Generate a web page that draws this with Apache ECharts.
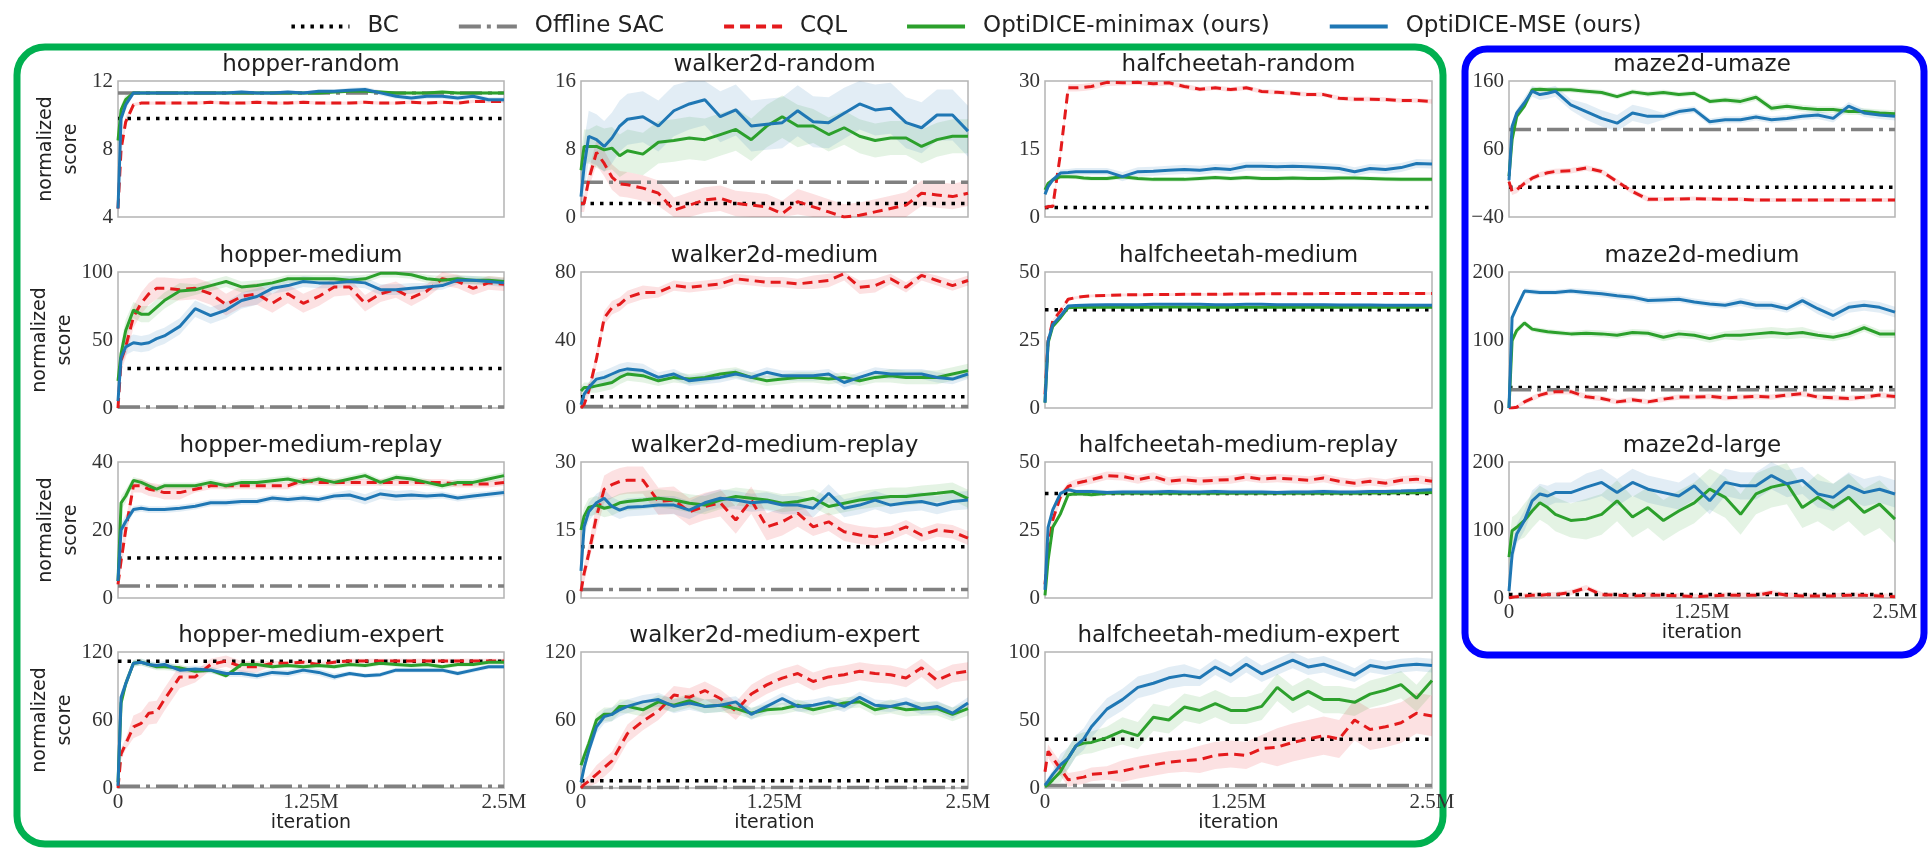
<!DOCTYPE html>
<html><head><meta charset="utf-8">
<script src="https://cdn.jsdelivr.net/npm/echarts@6/dist/echarts.min.js"></script>
<style>html,body{margin:0;padding:0;background:#fff}#c{width:1931px;height:848px}</style>
</head><body><div id="c"></div>
<script>
// ---------------- DATA ----------------
const iterations = [0,0.02,0.05,0.1,0.15,0.2,0.25,0.3,0.4,0.5,0.6,0.7,0.8,0.9,1.0,1.1,1.2,1.3,1.4,1.5,1.6,1.7,1.8,1.9,2.0,2.1,2.2,2.3,2.4,2.5];
const xTicks = [0, 1.25, 2.5];
const legendNames = ['BC','Offline SAC','CQL','OptiDICE-minimax (ours)','OptiDICE-MSE (ours)'];
// band half-widths are given per segment: [0-0.1M, 0.1-0.5M, 0.5-1M, 1-1.5M, 1.5-2M, 2-2.5M]

// hopper-random
const hopperRandom_yTicks = [4, 8, 12];
const hopperRandom_BC = 9.8, hopperRandom_SAC = 11.3;
const hopperRandom_CQL = [4.5,8.0,9.6,10.6,10.7,10.7,10.7,10.7,10.7,10.7,10.75,10.7,10.7,10.75,10.7,10.7,10.75,10.7,10.7,10.7,10.75,10.7,10.7,10.75,10.7,10.75,10.7,10.8,10.8,10.8];
const hopperRandom_minimax = [8.5,10.3,10.9,11.3,11.3,11.3,11.3,11.3,11.3,11.3,11.3,11.3,11.3,11.3,11.3,11.3,11.3,11.3,11.35,11.4,11.4,11.35,11.3,11.3,11.3,11.35,11.3,11.3,11.3,11.3];
const hopperRandom_MSE = [4.5,9.8,10.6,11.3,11.3,11.3,11.3,11.3,11.3,11.3,11.3,11.3,11.35,11.3,11.3,11.35,11.3,11.4,11.4,11.45,11.5,11.3,11.1,11.0,11.1,11.1,11.0,11.1,10.9,10.9];
const hopperRandom_bands = [[0.3,0.1,0.1,0.1,0.1,0.1],[0.3,0.1,0.1,0.1,0.1,0.1],[0.3,0.1,0.1,0.1,0.15,0.15]];

// walker2d-random
const walkerRandom_yTicks = [0, 8, 16];
const walkerRandom_BC = 1.6, walkerRandom_SAC = 4.1;
const walkerRandom_CQL = [1.6,1.6,4.4,7.6,6.3,4.7,3.9,3.8,3.4,2.8,0.8,1.4,2.0,2.2,1.6,1.4,1.2,0.4,1.8,1.2,0.6,0.0,0.2,0.6,1.0,1.4,2.8,2.6,2.4,2.8];
const walkerRandom_minimax = [5.5,8.3,8.3,8.3,7.9,8.1,7.2,7.8,7.4,8.8,9.0,9.3,9.1,9.7,10.3,9.1,10.7,11.8,10.7,10.7,9.7,10.5,9.5,9.0,9.3,9.3,8.3,9.1,9.5,9.5];
const walkerRandom_MSE = [2.4,5.9,9.5,9.1,8.3,9.3,10.7,11.5,11.8,10.7,12.5,13.3,13.8,11.8,12.6,10.7,10.9,11.1,12.5,11.2,11.1,12.2,13.3,12.6,12.8,11.1,10.5,12.0,12.0,10.1];
const walkerRandom_bands = [[1,1.5,1.5,1.5,1.5,1.5],[2,2.5,2.5,2.5,2,2],[3,3,3,3,3,3]];

// halfcheetah-random
const cheetahRandom_yTicks = [0, 15, 30];
const cheetahRandom_BC = 2.1, cheetahRandom_SAC = null;
const cheetahRandom_CQL = [2,2.3,2.3,14,28.5,28.5,28.6,28.8,29.7,29.6,29.7,29.4,29.6,28.8,28.2,28.5,28.1,28.5,27.7,27.5,27.3,27,27,26.2,26,26,25.9,25.7,25.7,25.5];
const cheetahRandom_minimax = [6,7.4,8.2,8.9,8.9,8.8,8.6,8.5,8.5,8.9,8.5,8.3,8.3,8.3,8.5,8.7,8.5,8.7,8.5,8.5,8.6,8.5,8.5,8.6,8.6,8.5,8.4,8.3,8.3,8.3];
const cheetahRandom_MSE = [5,6.7,8.2,9.7,9.8,10,10,10,10,8.9,10,10.1,10.3,10.5,10.3,10.7,10.5,11.2,11.2,11.1,11.2,11.1,10.9,10.7,10,10.7,10.5,10.9,11.8,11.7];
const cheetahRandom_bands = [[0.5,0.8,0.6,0.5,0.5,0.5],[0.5,0.5,0.5,0.5,0.5,0.5],[0.5,0.8,1,1,1,1]];

// maze2d-umaze
const mazeUmaze_yTicks = [-40, 60, 160];
const mazeUmaze_BC = 3.8, mazeUmaze_SAC = 88.7;
const mazeUmaze_CQL = [12,-2.6,0,9.6,17,22,25,27,28,32,27,12,-2.6,-14,-14,-13.5,-13,-13.5,-14,-14,-15,-15,-15,-15,-15,-15,-15,-15,-15,-15];
const mazeUmaze_minimax = [20,73.5,108,123,147,148,147,147,147,145,143,137,144,141,143,140,142,130,132,130,136,120,123,120,118,118,115,115,113,112];
const mazeUmaze_MSE = [14,93,113,128,145,140,142,145,125,115,105,98,113,108,108,115,118,100,103,103,107,103,105,108,110,105,123,113,110,108];
const mazeUmaze_bands = [[5,4,4,3,3,3],[5,4,4,4,5,5],[5,8,12,5,5,6]];

// hopper-medium
const hopperMedium_yTicks = [0, 50, 100];
const hopperMedium_BC = 29, hopperMedium_SAC = 0.8;
const hopperMedium_CQL = [0,35,45,67,77,84,88,88,87,88,84,76,82,84,77,84,77,82,89,89,77,84,87,81,86,95,93,88,92,91];
const hopperMedium_minimax = [20,40,57,72,69,69,74,79,86,87,90,93,89,90,92,95,95,95,95,94,95,99,99,98,95,94,95,94,94,93];
const hopperMedium_MSE = [5,37,45,48,47,48,51,53,60,73,68,72,79,82,88,90,93,92,92,93,92,87,87,88,89,90,94,94,93,92];
const hopperMedium_bands = [[8,8,8,7,6,5],[8,6,4,3,3,3],[6,6,6,4,4,3]];

// walker2d-medium
const walkerMedium_yTicks = [0, 40, 80];
const walkerMedium_BC = 6.6, walkerMedium_SAC = 0.9;
const walkerMedium_CQL = [0,2,10,29,53,59,61,65,68,68,72,71,72,73,76,75,74,74,73,74,75,79,71,72,76,71,78,75,72,75];
const walkerMedium_minimax = [10,12,12,13,14,15,18,20,19,16,18,17,18,20,21,18,16,17,18,18,17,18,16,18,19,18,18,18,20,22];
const walkerMedium_MSE = [2,8,12,17,18,20,22,23,22,18,20,16,17,18,20,18,21,19,19,19,20,15,18,21,20,20,20,18,17,20];
const walkerMedium_bands = [[3,4,3,3,4,3],[3,4,3,3,3,4],[3,4,3,3,3,3]];

// halfcheetah-medium
const cheetahMedium_yTicks = [0, 25, 50];
const cheetahMedium_BC = 36.1, cheetahMedium_SAC = null;
const cheetahMedium_CQL = [5,24.6,32,35.7,40,40.6,41,41.2,41.4,41.6,41.6,41.7,41.7,41.8,41.8,41.8,41.9,41.9,42,42,42,42,42.1,42.1,42.1,42.1,42.1,42.1,42.1,42.1];
const cheetahMedium_minimax = [2,24,30,33.2,36.9,37,37,37,37,37,37,37,37.1,37.1,37,37,37,37,37,37,37,37,37,37,37,37,37,37,37,37];
const cheetahMedium_MSE = [2,24.6,30.7,33.8,37.5,37.7,37.8,37.9,38,38,38,38.1,38.1,38.1,38.1,38,38,38.1,38.1,38,38,38,38,37.9,37.9,37.9,37.8,37.8,37.8,37.8];
const cheetahMedium_bands = [[0.5,0.5,0.5,0.5,0.5,0.5],[0.5,0.5,0.5,0.5,0.5,0.5],[0.5,0.5,0.5,0.5,0.5,0.5]];

// maze2d-medium
const mazeMedium_yTicks = [0, 100, 200];
const mazeMedium_BC = 30.3, mazeMedium_SAC = 27;
const mazeMedium_CQL = [0,0,1,9,14,19,22,24,24,16.5,14,9,12,9,13,16,16,17,15,16,17,16,19,21,16,15,14,16,19,17];
const mazeMedium_minimax = [0,99,114,125,116,114,112,111,109,110,109,107,111,110,104,109,107,102,107,107,109,111,109,111,107,104,109,118,109,109];
const mazeMedium_MSE = [0,133,148,172,171,170,170,170,172,170,168,165,163,158,159,160,156,153,151,156,151,151,146,158,146,136,148,151,148,141];
const mazeMedium_bands = [[3,4,4,4,4,4],[5,4,5,6,8,6],[5,4,5,5,6,8]];

// hopper-medium-replay
const hopperReplay_yTicks = [0, 20, 40];
const hopperReplay_BC = 11.8, hopperReplay_SAC = 3.5;
const hopperReplay_CQL = [4,11,20,33,33,32,31.6,31,31,32,33,33,33,33,33,33,34.6,34,34,34,34,34,34,34,34,34,33.5,33.5,33.5,34];
const hopperReplay_minimax = [5,28,30,34.6,34,33,32,33,33,33,34,33,34,34,34.5,35,34,35,34,35,36,34,35.5,35,34,33,34,34,35,36];
const hopperReplay_MSE = [5,20,22.5,26,26.4,26,26,26,26.4,27,28,28,28.4,28.4,29.4,29,29.4,29,30,30.3,29,30.6,30,30.3,30,30.3,29.4,30,30.5,31];
const hopperReplay_bands = [[3,2,1,1,1,1],[2,1,1,1,1,1],[2,1,1,1,1.5,1]];

// walker2d-medium-replay
const walkerReplay_yTicks = [0, 15, 30];
const walkerReplay_BC = 11.3, walkerReplay_SAC = 1.9;
const walkerReplay_CQL = [1.5,5.4,9.8,18,24,25,25.7,26,26,21.3,21.6,19,20.2,21,17.2,21.6,15.7,16.8,18.7,15.7,16.8,14.6,13.9,13.5,14.3,15.7,13.9,15,14.6,13.2];
const walkerReplay_minimax = [15,18,20,20.5,19.8,20.2,21,21.3,21.6,22,21.6,20.9,20.5,21.6,22.4,22,21.6,20.9,21.3,22,20.2,20.9,21.6,22,22.4,22.4,22.8,23.1,23.5,21.9];
const walkerReplay_MSE = [6,15.7,19,21,22,20.2,19.4,20,20.2,20.5,20.5,19.4,21,22,21.6,21,21.3,20.5,20.5,19.8,23.1,19.8,20.5,21.6,20.5,21,21.3,20.5,21.3,21.6];
const walkerReplay_bands = [[2,3,3,3,2,1.5],[2,2,2,2,2,2],[2,2,2,2,2,2]];

// halfcheetah-medium-replay
const cheetahReplay_yTicks = [0, 25, 50];
const cheetahReplay_BC = 38.4, cheetahReplay_SAC = null;
const cheetahReplay_CQL = [5,17.6,28.7,37.3,41,42.2,42.8,43.5,45,44.7,43.5,44.7,42.9,43.5,42.9,43.3,43.5,44.5,43.7,44.1,43.7,43.3,44.1,42.9,42.2,42.9,42.2,43.3,43.7,42.9];
const cheetahReplay_minimax = [1,13.9,26,31,38,38.3,38.2,38,38.5,38.5,38.5,38.5,38.6,38.5,38.5,38.5,38.6,38.5,38.5,38.6,38.5,38.5,38.6,38.5,38.5,38.6,38.6,38.7,38.7,38.8];
const cheetahReplay_MSE = [3,26,32.4,38.5,39.8,39.2,39.2,39.2,38.8,39,39,39,39.2,39,39,39.2,39,39,39,38.8,39,39,39.2,39,39,39.2,39.2,39.3,39.5,39.8];
const cheetahReplay_bands = [[2,1.5,1.5,1.5,1.5,1.5],[1,0.8,0.8,0.8,0.8,0.8],[1,0.8,0.8,0.8,0.8,0.8]];

// maze2d-large
const mazeLarge_yTicks = [0, 100, 200];
const mazeLarge_BC = 5.0, mazeLarge_SAC = null;
const mazeLarge_CQL = [0,1,2,3,4,4,5,5,8,15,5,4,3,4,4,3,2,3,4,4,4,8,4,3,3,3,4,4,3,2];
const mazeLarge_minimax = [60,99,104,114,128,140,133,123,114,116,123,143,119,133,114,128,140,160,148,123,153,163,168,133,148,133,148,126,138,116];
const mazeLarge_MSE = [10,64,94,114,143,153,150,155,155,163,170,155,170,160,155,150,165,143,170,165,165,180,168,173,153,148,165,155,160,153];
const mazeLarge_bands = [[3,4,4,4,4,4],[20,25,30,30,30,35],[15,15,20,20,20,20]];

// hopper-medium-expert
const hopperExpert_yTicks = [0, 60, 120];
const hopperExpert_BC = 111.9, hopperExpert_SAC = 1.6;
const hopperExpert_CQL = [0,30,39,54,57,66,67,78,98,98,109,112,107,107,110,110,111,109,111,112,112,112,112,112,112,112,112,112,112,112];
const hopperExpert_minimax = [5,75,92,110,111,109,107,107,106,103,104,99,109,109,107,108,107,108,107,109,108,110,109,108,109,107,109,109,111,111];
const hopperExpert_MSE = [2,80,92,110,111,109,108,109,104,105,104,101,101,99,102,101,104,102,98,101,99,100,104,104,104,104,101,104,107,107];
const hopperExpert_bands = [[5,10,5,2,2,2],[5,3,2,2,2,2],[5,3,3,3,2,2]];

// walker2d-medium-expert
const walkerExpert_yTicks = [0, 60, 120];
const walkerExpert_BC = 6.4, walkerExpert_SAC = 0.4;
const walkerExpert_CQL = [0,3,6,12,18,24,36,48,59,68,82,80,86,79,68,83,91,97,101,94,98,100,103,101,100,97,106,95,101,103];
const walkerExpert_minimax = [20,28,39,60,65,65,72,72,69,76,73,77,72,73,70,66,69,70,73,69,72,75,76,69,72,69,70,70,65,70];
const walkerExpert_MSE = [5,18,33,54,63,65,69,72,76,78,72,75,72,73,76,65,72,79,72,73,76,72,80,73,72,75,70,72,66,75];
const walkerExpert_bands = [[5,8,8,8,8,8],[5,6,6,5,5,6],[5,6,6,5,5,5]];

// halfcheetah-medium-expert
const cheetahExpert_yTicks = [0, 50, 100];
const cheetahExpert_BC = 35.8, cheetahExpert_SAC = 1.8;
const cheetahExpert_CQL = [12,27,22,14,6,7,8,10,11,12.4,15,17,19,20,21,24,25,24,29,30,33.5,36,38.5,36,50,43,45,48,55,53];
const cheetahExpert_minimax = [1,2.5,6,12,22,31,33,33.5,37,42,38.5,52,50,59.5,57,62,57,57,60,74,65,71,65,65,63,69,72,76,66,79];
const cheetahExpert_MSE = [2,5,10,17,22,31,36,45,58,65,74,77,81,83,81,89,83,91,84,89,94,89,91,87,83,90,88,90,91,90];
const cheetahExpert_bands = [[5,5,8,10,14,15],[3,8,10,10,10,10],[3,8,8,6,6,5]];

// ---------------- PANELS (col,row = layout slot) ----------------
const panels = [
  {title:'hopper-random', col:0,row:0, yTicks:hopperRandom_yTicks, bc:hopperRandom_BC, sac:hopperRandom_SAC, cql:hopperRandom_CQL, mm:hopperRandom_minimax, mse:hopperRandom_MSE, bands:hopperRandom_bands},
  {title:'walker2d-random', col:1,row:0, yTicks:walkerRandom_yTicks, bc:walkerRandom_BC, sac:walkerRandom_SAC, cql:walkerRandom_CQL, mm:walkerRandom_minimax, mse:walkerRandom_MSE, bands:walkerRandom_bands},
  {title:'halfcheetah-random', col:2,row:0, yTicks:cheetahRandom_yTicks, bc:cheetahRandom_BC, sac:cheetahRandom_SAC, cql:cheetahRandom_CQL, mm:cheetahRandom_minimax, mse:cheetahRandom_MSE, bands:cheetahRandom_bands},
  {title:'maze2d-umaze', col:3,row:0, yTicks:mazeUmaze_yTicks, bc:mazeUmaze_BC, sac:mazeUmaze_SAC, cql:mazeUmaze_CQL, mm:mazeUmaze_minimax, mse:mazeUmaze_MSE, bands:mazeUmaze_bands},
  {title:'hopper-medium', col:0,row:1, yTicks:hopperMedium_yTicks, bc:hopperMedium_BC, sac:hopperMedium_SAC, cql:hopperMedium_CQL, mm:hopperMedium_minimax, mse:hopperMedium_MSE, bands:hopperMedium_bands},
  {title:'walker2d-medium', col:1,row:1, yTicks:walkerMedium_yTicks, bc:walkerMedium_BC, sac:walkerMedium_SAC, cql:walkerMedium_CQL, mm:walkerMedium_minimax, mse:walkerMedium_MSE, bands:walkerMedium_bands},
  {title:'halfcheetah-medium', col:2,row:1, yTicks:cheetahMedium_yTicks, bc:cheetahMedium_BC, sac:cheetahMedium_SAC, cql:cheetahMedium_CQL, mm:cheetahMedium_minimax, mse:cheetahMedium_MSE, bands:cheetahMedium_bands},
  {title:'maze2d-medium', col:3,row:1, yTicks:mazeMedium_yTicks, bc:mazeMedium_BC, sac:mazeMedium_SAC, cql:mazeMedium_CQL, mm:mazeMedium_minimax, mse:mazeMedium_MSE, bands:mazeMedium_bands},
  {title:'hopper-medium-replay', col:0,row:2, yTicks:hopperReplay_yTicks, bc:hopperReplay_BC, sac:hopperReplay_SAC, cql:hopperReplay_CQL, mm:hopperReplay_minimax, mse:hopperReplay_MSE, bands:hopperReplay_bands},
  {title:'walker2d-medium-replay', col:1,row:2, yTicks:walkerReplay_yTicks, bc:walkerReplay_BC, sac:walkerReplay_SAC, cql:walkerReplay_CQL, mm:walkerReplay_minimax, mse:walkerReplay_MSE, bands:walkerReplay_bands},
  {title:'halfcheetah-medium-replay', col:2,row:2, yTicks:cheetahReplay_yTicks, bc:cheetahReplay_BC, sac:cheetahReplay_SAC, cql:cheetahReplay_CQL, mm:cheetahReplay_minimax, mse:cheetahReplay_MSE, bands:cheetahReplay_bands},
  {title:'maze2d-large', col:3,row:2, yTicks:mazeLarge_yTicks, bc:mazeLarge_BC, sac:mazeLarge_SAC, cql:mazeLarge_CQL, mm:mazeLarge_minimax, mse:mazeLarge_MSE, bands:mazeLarge_bands, bottom:true},
  {title:'hopper-medium-expert', col:0,row:3, yTicks:hopperExpert_yTicks, bc:hopperExpert_BC, sac:hopperExpert_SAC, cql:hopperExpert_CQL, mm:hopperExpert_minimax, mse:hopperExpert_MSE, bands:hopperExpert_bands, bottom:true},
  {title:'walker2d-medium-expert', col:1,row:3, yTicks:walkerExpert_yTicks, bc:walkerExpert_BC, sac:walkerExpert_SAC, cql:walkerExpert_CQL, mm:walkerExpert_minimax, mse:walkerExpert_MSE, bands:walkerExpert_bands, bottom:true},
  {title:'halfcheetah-medium-expert', col:2,row:3, yTicks:cheetahExpert_yTicks, bc:cheetahExpert_BC, sac:cheetahExpert_SAC, cql:cheetahExpert_CQL, mm:cheetahExpert_minimax, mse:cheetahExpert_MSE, bands:cheetahExpert_bands, bottom:true}
];

// ---------------- LAYOUT / STYLE ----------------
const colLeft = [118, 581, 1045, 1509];
const colWidth = [386, 387, 387, 386];
const rowTop = [81, 272, 462, 652];
const plotH = 136;
const COLORS = {bc:'#000000', sac:'#808080', cql:'#e41a1c', mm:'#2ca02c', mse:'#1f77b4'};
const SANS = 'DejaVu Sans';
const SERIF = 'Liberation Serif';

function segIndex(x){ if (x < 0.1) return 0; if (x < 0.5) return 1; return Math.min(5, Math.floor(x / 0.5) + 1); }
function fmtY(v){ return v < 0 ? '\u2212' + Math.abs(v) : String(v); }
function fmtX(v){ return v === 0 ? '0' : v + 'M'; }

const grids = [], xAxes = [], yAxes = [], series = [], graphics = [];

panels.forEach((p, i) => {
  const left = colLeft[p.col], width = colWidth[p.col], top = rowTop[p.row];
  const ymin = p.yTicks[0], ymax = p.yTicks[p.yTicks.length - 1];
  const isBottom = p.row === 3 || p.bottom;
  grids.push({left, top, width, height: plotH, show: true, borderColor: '#b4b4b4', borderWidth: 1.5, backgroundColor: 'transparent', containLabel: false});
  xAxes.push({gridIndex: i, type: 'value', min: xTicks[0], max: xTicks[xTicks.length-1], interval: xTicks[1] - xTicks[0],
    axisLine: {show: false}, axisTick: {show: false}, splitLine: {show: false},
    axisLabel: {show: isBottom, formatter: fmtX, fontFamily: SERIF, fontSize: 21, color: '#333', margin: 4},
    name: isBottom ? 'iteration' : '', nameLocation: 'middle', nameGap: 26,
    nameTextStyle: {fontFamily: SANS, fontSize: 19, color: '#222'}});
  yAxes.push({gridIndex: i, type: 'value', min: ymin, max: ymax, interval: p.yTicks[1] - p.yTicks[0],
    axisLine: {show: false}, axisTick: {show: false}, splitLine: {show: false},
    axisLabel: {formatter: fmtY, fontFamily: SERIF, fontSize: 21, color: '#333', margin: 5},
    name: p.col === 0 ? 'normalized\nscore' : '', nameLocation: 'middle', nameRotate: 90, nameGap: 34,
    nameTextStyle: {fontFamily: SANS, fontSize: 19, color: '#222', lineHeight: 25}});

  graphics.push({type: 'text', x: left + width / 2, y: top - 16, silent: true,
    style: {text: p.title, font: '23px "' + SANS + '"', fill: '#1e1e1e', align: 'center', verticalAlign: 'middle', textAlign: 'center', textVerticalAlign: 'middle'}});

  // uncertainty bands
  const bandDefs = [[p.cql, p.bands[0], COLORS.cql], [p.mm, p.bands[1], COLORS.mm], [p.mse, p.bands[2], COLORS.mse]];
  bandDefs.forEach(([mean, half, color]) => {
    series.push({type: 'custom', xAxisIndex: i, yAxisIndex: i, silent: true, z: 1, data: [[1.25, (ymin + ymax) / 2]],
      renderItem: (params, api) => {
        const up = [], lo = [];
        iterations.forEach((x, k) => {
          const h = half[segIndex(x)];
          up.push(api.coord([x, Math.min(ymax, mean[k] + h)]));
          lo.push(api.coord([x, Math.max(ymin, mean[k] - h)]));
        });
        return {type: 'polygon', shape: {points: up.concat(lo.reverse())}, style: {fill: color, opacity: 0.13}};
      }});
  });

  const common = {type: 'line', xAxisIndex: i, yAxisIndex: i, symbol: 'none', silent: true, clip: true, animation: false};
  if (p.bc !== null) series.push(Object.assign({}, common, {name: 'BC', z: 3,
    data: [[xTicks[0], p.bc], [xTicks[xTicks.length-1], p.bc]],
    lineStyle: {color: COLORS.bc, width: 3.5, type: [3.5, 6]}, itemStyle: {color: COLORS.bc}}));
  if (p.sac !== null) series.push(Object.assign({}, common, {name: 'Offline SAC', z: 3,
    data: [[xTicks[0], p.sac], [xTicks[xTicks.length-1], p.sac]],
    lineStyle: {color: COLORS.sac, width: 3.5, type: [22, 6, 4, 6]}, itemStyle: {color: COLORS.sac}}));
  series.push(Object.assign({}, common, {name: 'CQL', z: 4, data: iterations.map((x, k) => [x, p.cql[k]]),
    lineStyle: {color: COLORS.cql, width: 3, type: [10, 6]}, itemStyle: {color: COLORS.cql}}));
  series.push(Object.assign({}, common, {name: 'OptiDICE-minimax (ours)', z: 5, data: iterations.map((x, k) => [x, p.mm[k]]),
    lineStyle: {color: COLORS.mm, width: 3}, itemStyle: {color: COLORS.mm}}));
  series.push(Object.assign({}, common, {name: 'OptiDICE-MSE (ours)', z: 6, data: iterations.map((x, k) => [x, p.mse[k]]),
    lineStyle: {color: COLORS.mse, width: 3}, itemStyle: {color: COLORS.mse}}));
});

// group frames
graphics.push({type: 'rect', silent: true, z: -1, shape: {x: 17, y: 47, width: 1426, height: 797, r: 28},
  style: {fill: 'none', stroke: '#00b050', lineWidth: 7}});
graphics.push({type: 'rect', silent: true, z: -1, shape: {x: 1465, y: 49, width: 459, height: 606, r: 22},
  style: {fill: 'none', stroke: '#0000ff', lineWidth: 7}});

const chart = echarts.init(document.getElementById('c'), null, {renderer: 'canvas'});
chart.setOption({
  animation: false,
  backgroundColor: '#ffffff',
  legend: {data: legendNames, top: 10, left: 'center', itemWidth: 58, itemHeight: 14, itemGap: 58, selectedMode: false,
    itemStyle: {opacity: 0}, lineStyle: {width: 4},
    textStyle: {fontFamily: SANS, fontSize: 23, color: '#222', padding: [0, 0, 0, 13]}},
  grid: grids, xAxis: xAxes, yAxis: yAxes, series: series, graphic: graphics
});
</script></body></html>
